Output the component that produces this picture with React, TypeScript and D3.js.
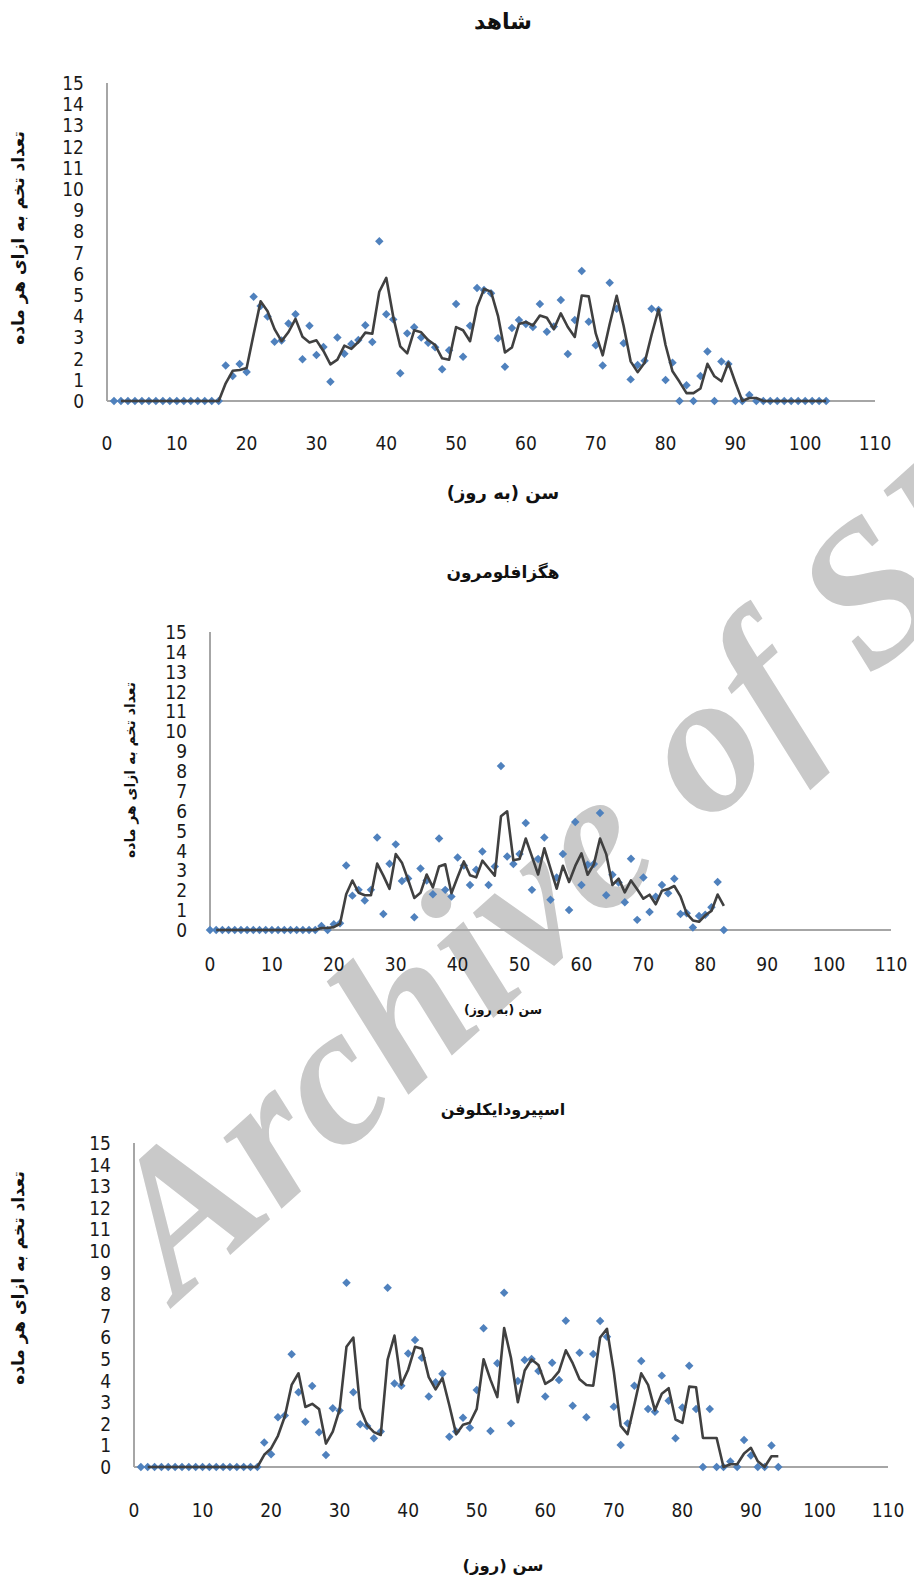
import { useEffect, useRef } from 'react';
import * as d3 from 'd3';

// tick labels shared by the three panels
const yTickLabels = [0, 1, 2, 3, 4, 5, 6, 7, 8, 9, 10, 11, 12, 13, 14, 15];
const xTickLabels = [0, 10, 20, 30, 40, 50, 60, 70, 80, 90, 100, 110];

// eggs per female per day
const controlStartDay = 1;
const controlEggs = [
  0, 0, 0, 0, 0, 0, 0, 0, 0, 0, 0, 0, 0, 0, 0, 0,
  1.67, 1.18, 1.75, 1.37, 4.92, 4.48, 3.98, 2.8, 2.85, 3.66,
  4.09, 1.97, 3.55, 2.17, 2.55, 0.91, 2.99, 2.23, 2.69, 2.88,
  3.57, 2.78, 7.53, 4.09, 3.85, 1.31, 3.19, 3.48, 3.0, 2.75,
  2.53, 1.5, 2.39, 4.58, 2.09, 3.55, 5.33, 5.24, 5.08, 2.96,
  1.62, 3.44, 3.82, 3.63, 3.49, 4.58, 3.27, 3.51, 4.76, 2.22,
  3.82, 6.13, 3.74, 2.63, 1.68, 5.58, 4.35, 2.72, 1.02, 1.7,
  1.9, 4.35, 4.29, 0.99, 1.81, 0, 0.74, 0, 1.18, 2.33,
  0, 1.86, 1.75, 0, 0, 0.28,
  0, 0, 0, 0, 0, 0, 0, 0, 0, 0, 0,
];

const hexaStartDay = 0;
const hexaEggs = [
  0, 0, 0, 0, 0, 0, 0, 0, 0, 0, 0, 0, 0, 0, 0, 0, 0, 0,
  0.2, 0, 0.29, 0.34, 3.25, 1.73, 2.02, 1.48, 2.02, 4.66,
  0.81, 3.33, 4.31, 2.47, 2.59, 0.64, 3.1, 2.49, 1.8, 4.6,
  2.02, 1.68, 3.65, 3.25, 2.27, 3.03, 3.95, 2.27, 3.2, 8.25,
  3.7, 3.32, 3.82, 5.39, 2.02, 3.57, 4.66, 1.52, 2.64, 3.82,
  1.01, 5.44, 2.27, 3.29, 3.32, 5.89, 1.75, 2.78, 2.39, 1.4,
  3.59, 0.51, 2.64, 0.91, 1.68, 2.27, 1.85, 2.58, 0.81, 0.84,
  0.12, 0.71, 0.77, 1.15, 2.42, 0,
];

const spiroStartDay = 1;
const spiroEggs = [
  0, 0, 0, 0, 0, 0, 0, 0, 0, 0, 0, 0, 0, 0, 0, 0, 0, 0,
  1.13, 0.59, 2.3, 2.38, 5.22, 3.46, 2.1, 3.75, 1.61, 0.56,
  2.72, 2.61, 8.53, 3.46, 1.98, 1.9, 1.33, 1.64, 8.3, 3.87,
  3.76, 5.25, 5.88, 5.06, 3.26, 3.92, 4.32, 1.4, 1.64, 2.28,
  1.82, 3.56, 6.42, 1.67, 4.8, 8.07, 2.02, 3.98, 4.95, 5.0,
  4.44, 3.26, 4.83, 4.03, 6.77, 2.84, 5.29, 2.3, 5.23, 6.76,
  6.03, 2.79, 1.02, 2.02, 3.76, 4.91, 2.69, 2.56, 4.23, 3.07,
  1.33, 2.75, 4.69, 2.69, 0, 2.69, 0, 0, 0.26, 0,
  1.25, 0.53, 0, 0, 1.0, 0,
];

const yTitle = 'تعداد تخم به ازای هر ماده';

const panels = [
  {
    title: 'شاهد', titleY: 29, titleSize: 22,
    xTitle: 'سن (به روز)', xTitleY: 499, xTitleSize: 18,
    yTitleX: 24, yTitleY: 238, yTitleSize: 17,
    xRange: [107, 875], yRange: [401, 83], xLabelY: 450,
    start: controlStartDay, values: controlEggs,
  },
  {
    title: 'هگزافلومرون', titleY: 578, titleSize: 17,
    xTitle: 'سن (به روز)', xTitleY: 1014, xTitleSize: 12.5,
    yTitleX: 135, yTitleY: 770, yTitleSize: 14,
    xRange: [210, 891], yRange: [930, 632], xLabelY: 971,
    start: hexaStartDay, values: hexaEggs,
  },
  {
    title: 'اسپیرودایکلوفن', titleY: 1115, titleSize: 16,
    xTitle: 'سن (روز)', xTitleY: 1571, xTitleSize: 16.5,
    yTitleX: 24, yTitleY: 1278, yTitleSize: 17,
    xRange: [134, 888], yRange: [1467, 1143], xLabelY: 1517,
    start: spiroStartDay, values: spiroEggs,
  },
];

const tickFont = '"DejaVu Sans Condensed", "DejaVu Sans", sans-serif';
const faFont = '"DejaVu Sans", sans-serif';

export default function App() {
  const svgRef = useRef<SVGSVGElement>(null);

  useEffect(() => {
    const svg = d3.select(svgRef.current);
    svg.selectAll('*').remove();

    // watermark, behind everything
    svg.append('text')
      .attr('transform', 'translate(178,1302) rotate(-42)')
      .attr('font-family', '"Liberation Serif", serif')
      .attr('font-style', 'italic')
      .attr('font-weight', 'bold')
      .attr('font-size', 200)
      .attr('letter-spacing', 2)
      .attr('fill', '#c9c9c9')
      .text('Archive of SID');

    const diamond = d3.symbol().type(d3.symbolSquare).size(36);

    panels.forEach(p => {
      const x = d3.scaleLinear().domain([0, 110]).range(p.xRange);
      const y = d3.scaleLinear().domain([0, 15]).range(p.yRange);
      const g = svg.append('g');

      // title
      g.append('text')
        .attr('x', 503).attr('y', p.titleY)
        .attr('text-anchor', 'middle')
        .attr('direction', 'rtl')
        .attr('font-family', faFont)
        .attr('font-weight', 'bold')
        .attr('font-size', p.titleSize)
        .attr('fill', '#111')
        .text(p.title);

      // axes
      g.append('line')
        .attr('x1', x(0)).attr('x2', x(110))
        .attr('y1', y(0)).attr('y2', y(0))
        .attr('stroke', '#a6a6a6').attr('stroke-width', 2);
      g.append('line')
        .attr('x1', x(0)).attr('x2', x(0))
        .attr('y1', y(0)).attr('y2', y(15))
        .attr('stroke', '#a6a6a6').attr('stroke-width', 2);

      g.selectAll('.ytick')
        .data(yTickLabels)
        .enter()
        .append('text')
        .attr('x', x(0) - 23)
        .attr('y', d => y(d) + 7)
        .attr('text-anchor', 'end')
        .attr('font-family', tickFont)
        .attr('font-size', 19)
        .attr('fill', '#1a1a1a')
        .text(d => d);

      g.selectAll('.xtick')
        .data(xTickLabels)
        .enter()
        .append('text')
        .attr('x', d => x(d))
        .attr('y', p.xLabelY)
        .attr('text-anchor', 'middle')
        .attr('font-family', tickFont)
        .attr('font-size', 19)
        .attr('fill', '#1a1a1a')
        .text(d => d);

      // axis titles
      g.append('text')
        .attr('x', 503).attr('y', p.xTitleY)
        .attr('text-anchor', 'middle')
        .attr('direction', 'rtl')
        .attr('font-family', faFont)
        .attr('font-weight', 'bold')
        .attr('font-size', p.xTitleSize)
        .attr('fill', '#111')
        .text(p.xTitle);

      g.append('text')
        .attr('transform', `translate(${p.yTitleX},${p.yTitleY}) rotate(-90)`)
        .attr('text-anchor', 'middle')
        .attr('direction', 'rtl')
        .attr('font-family', faFont)
        .attr('font-weight', 'bold')
        .attr('font-size', p.yTitleSize)
        .attr('fill', '#111')
        .text(yTitle);

      const pts = p.values.map((v, i) => ({ day: p.start + i, v }));

      // scatter points (diamonds)
      g.selectAll('.pt')
        .data(pts)
        .enter()
        .append('path')
        .attr('d', diamond)
        .attr('transform', d => `translate(${x(d.day)},${y(d.v)}) rotate(45)`)
        .attr('fill', '#4f81bd');

      // 2-period moving average trendline
      const avg = pts.slice(1).map((d, i) => ({ day: d.day, v: (pts[i].v + d.v) / 2 }));
      const line = d3.line<{ day: number; v: number }>()
        .x(d => x(d.day))
        .y(d => y(d.v));
      g.append('path')
        .datum(avg)
        .attr('d', line)
        .attr('fill', 'none')
        .attr('stroke', '#404040')
        .attr('stroke-width', 2.6)
        .attr('stroke-linejoin', 'round');
    });
  }, []);

  return (
    <svg
      ref={svgRef}
      width={914}
      height={1578}
      style={{ position: 'absolute', left: 0, top: 0, background: '#fff' }}
    />
  );
}
